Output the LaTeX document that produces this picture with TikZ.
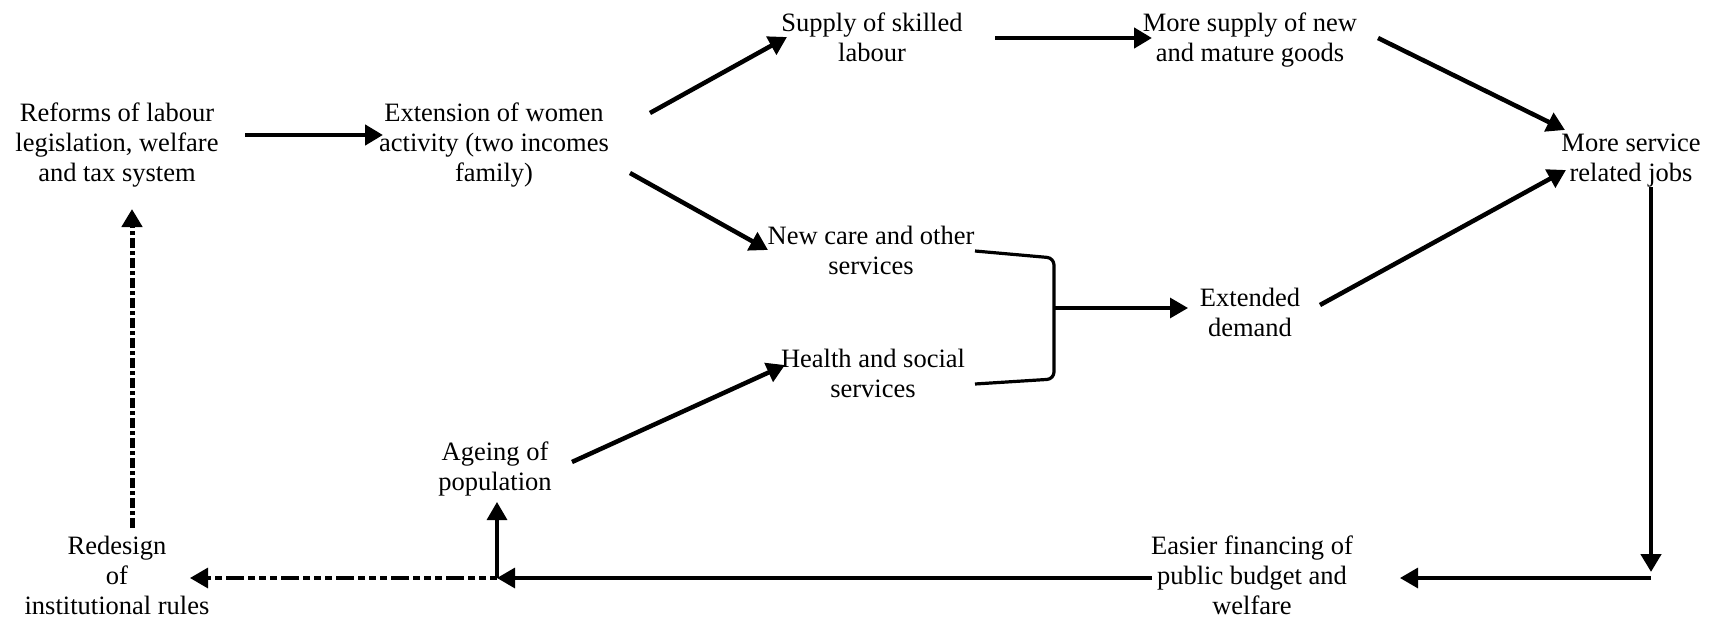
\documentclass[tikz,border=0pt]{standalone}
\usepackage{fontspec}
\setmainfont{Liberation Serif}
\usetikzlibrary{arrows.meta,calc}
\begin{document}
\begin{tikzpicture}[x=1pt,y=-1pt,
  lbl/.style={align=center, inner sep=0pt,
    font=\fontsize{26.5}{30}\selectfont,
    execute at begin node=\strut, execute at end node=\strut},
  tip/.style={-{Triangle[length=18pt,width=20pt]}},
  flow/.style={tip, line width=4.5pt},
  thinflow/.style={tip, line width=3.2pt},
  bracket/.style={line width=3.2pt, rounded corners=7pt},
  feedback/.style={tip, line width=3.2pt,
    dash pattern=on 7pt off 4pt on 7pt off 4pt on 7pt off 4pt on 18pt off 4pt},
  feedbackup/.style={tip, line width=5pt,
    dash pattern=on 10pt off 3pt on 4pt off 3pt}
]
\useasboundingbox (0,0) rectangle (1709,618);

% statements
\node[lbl] (reforms)  at (117,147)  {Reforms of labour\\legislation, welfare\\and tax system};
\node[lbl] (women)    at (494,147)  {Extension of women\\activity (two incomes\\family)};
\node[lbl] (supply)   at (872,42)   {Supply of skilled\\labour};
\node[lbl] (goods)    at (1250,42)  {More supply of new\\and mature goods};
\node[lbl] (jobs)     at (1631,162) {More service\\related jobs};
\node[lbl] (care)     at (871,255)  {New care and other\\services};
\node[lbl] (health)   at (873,378)  {Health and social\\services};
\node[lbl] (demand)   at (1250,317) {Extended\\demand};
\node[lbl] (ageing)   at (495,471)  {Ageing of\\population};
\node[lbl] (redesign) at (117,580)  {Redesign\\of\\institutional rules};
\node[lbl] (finance)  at (1252,580) {Easier financing of\\public budget and\\welfare};

% junction points of the combined paths
\coordinate (join)   at (1054,308);
\coordinate (corner) at (1651,578);
\coordinate (split)  at (497,578);

% main chain
\draw[flow] ([shift={(128,-12)}]reforms.center) -- ([shift={(-111,-12)}]women.center);
\draw[flow] ([shift={(156,-34)}]women.center) -- ([shift={(-85,-5)}]supply.center);
\draw[flow] ([shift={(136,26)}]women.center) -- ([shift={(-103,-5)}]care.center);
\draw[flow] ([shift={(123,-4)}]supply.center) -- ([shift={(-98,-4)}]goods.center);
\draw[flow] ([shift={(128,-4)}]goods.center) -- ([shift={(-66,-32)}]jobs.center);
\draw[flow] ([shift={(70,-12)}]demand.center) -- ([shift={(-65,8)}]jobs.center);
\draw[flow] ([shift={(77,-9)}]ageing.center) -- ([shift={(-88,-13)}]health.center);

% services combine into demand
\draw[bracket] ([shift={(104,-4)}]care.center) -- ([shift={(0,-50)}]join)
  -- ([shift={(0,71)}]join) -- ([shift={(102,6)}]health.center);
\draw[thinflow] (join) -- ([shift={(-62,-9)}]demand.center);

% feedback loop along the bottom
\draw[flow] ([shift={(20,25)}]jobs.center) -- ([shift={(0,-6)}]corner);
\draw[thinflow] (corner) -- ([shift={(148,-2)}]finance.center);
\draw[thinflow] ([shift={(-100,-2)}]finance.center) -- (split);
\draw[thinflow] (split) -- ([shift={(2,31)}]ageing.center);
\draw[feedback] (split) -- ([shift={(73,-2)}]redesign.center);
\draw[feedbackup] ([shift={(15,-52)}]redesign.center) -- ([shift={(15,62)}]reforms.center);
\end{tikzpicture}
\end{document}
